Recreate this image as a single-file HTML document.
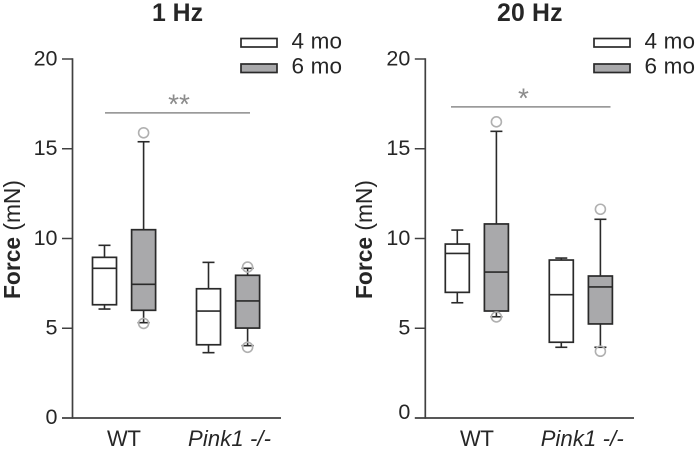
<!DOCTYPE html>
<html>
<head>
<meta charset="utf-8">
<style>
html,body{margin:0;padding:0;background:#fff;width:696px;height:458px;overflow:hidden}
svg{display:block}
text{font-family:"Liberation Sans",sans-serif;fill:#262626}
</style>
</head>
<body>
<svg id="figure" width="696" height="458" viewBox="0 0 696 458" xmlns="http://www.w3.org/2000/svg"></svg>
<script>
const categories = ['WT', 'Pink1 -/-'];
const seriesNames = ['4 mo', '6 mo'];
const tickLabels = [0, 5, 10, 15, 20];

// Order in each array: WT 4 mo, WT 6 mo, Pink1 4 mo, Pink1 6 mo
const whiskerHigh1Hz = [9.62, 15.39, 8.67, 8.34];
const q3Values1Hz = [8.95, 10.49, 7.2, 7.95];
const medianValues1Hz = [8.34, 7.45, 5.96, 6.52];
const q1Values1Hz = [6.31, 6.0, 4.08, 5.01];
const whiskerLow1Hz = [6.07, 5.31, 3.64, 4.03];
const outliers1Hz = [[], [15.89, 5.27], [], [8.41, 3.94]];

const whiskerHigh20Hz = [10.47, 15.97, 8.91, 11.07];
const q3Values20Hz = [9.69, 10.81, 8.8, 7.91];
const medianValues20Hz = [9.17, 8.13, 6.87, 7.3];
const q1Values20Hz = [7.0, 5.96, 4.22, 5.24];
const whiskerLow20Hz = [6.42, 5.64, 3.94, 3.94];
const outliers20Hz = [[], [16.5, 5.63], [], [11.63, 3.72]];

const significance1Hz = 17.0;
const significance20Hz = 17.33;

const svg = document.getElementById('figure');
const NS = 'http://www.w3.org/2000/svg';
function y(v) { return 418 - v * 17.95; }
function make(tag, attrs, parent) {
  const el = document.createElementNS(NS, tag);
  for (const k in attrs) el.setAttribute(k, attrs[k]);
  parent.appendChild(el);
  return el;
}
function line(x1, y1, x2, y2, color, w, parent) {
  return make('line', {x1: x1, y1: y1, x2: x2, y2: y2, stroke: color, 'stroke-width': w}, parent);
}
function label(str, x, yy, size, len, anchor, parent) {
  const t = make('text', {x: x, y: yy, 'font-size': size, 'text-anchor': anchor || 'start'}, parent);
  if (len) { t.setAttribute('textLength', len); t.setAttribute('lengthAdjust', 'spacing'); }
  t.textContent = str;
  return t;
}

function drawPanel(p) {
  const g = make('g', {}, svg);
  
  

  const title = make('text', {x: p.titleX, y: 21, 'font-size': 24.8, 'font-weight': 'bold', textLength: p.titleLen, lengthAdjust: 'spacing'}, g);
  title.textContent = p.title;
  
  

  const yTitle = make('text', {transform: 'translate(' + p.yTitleX + ',299) rotate(-90)', 'font-size': 22.8, textLength: 119, lengthAdjust: 'spacing'}, g);
  const bold = make('tspan', {'font-weight': 'bold'}, yTitle);
  bold.textContent = 'Force';
  const unit = make('tspan', {}, yTitle);
  unit.textContent = ' (mN)';
  
  

  const yAxis = line(p.axisX, y(20) - 0.7, p.axisX, y(0) + 0.7, '#404040', 1.7, g);
  
  
  const xAxis = line(p.axisX - 10.5, y(0), p.axisEnd, y(0), '#404040', 1.7, g);
  
  

  tickLabels.forEach(function (v) {
    if (v !== 0) {
      const tick = line(p.axisX - 10.5, y(v), p.axisX, y(v), '#404040', 1.5, g);
      
      
    }
    const dy = v === 0 ? p.zeroBaseline : y(v) + 6.3;
    const t = label(String(v), p.axisX - 15, dy, 21.5, null, 'end', g);
    
    
  });

  categories.forEach(function (c, i) {
    const t = label(c, p.catX[i], 446, 22, p.catLen[i], 'start', g);
    if (i === 1) t.setAttribute('font-style', 'italic');
    
    
  });

  for (let i = 0; i < 4; i++) {
    const cx = p.origin + Math.floor(i / 2) * 104 + (i % 2) * 39.1;
    const box = make('g', {}, g);
    
    
    line(cx, y(p.high[i]), cx, y(p.q3[i]), '#2a2a2a', 1.6, box);
    line(cx, y(p.q1[i]), cx, y(p.low[i]), '#2a2a2a', 1.6, box);
    line(cx - 6, y(p.high[i]), cx + 6, y(p.high[i]), '#2a2a2a', 1.6, box);
    line(cx - 6, y(p.low[i]), cx + 6, y(p.low[i]), '#2a2a2a', 1.6, box);
    make('rect', {x: cx - 12, y: y(p.q3[i]), width: 24, height: y(p.q1[i]) - y(p.q3[i]), fill: i % 2 ? '#a9a9ab' : '#fff', stroke: '#2a2a2a', 'stroke-width': 1.7}, box);
    line(cx - 12, y(p.median[i]), cx + 12, y(p.median[i]), '#2a2a2a', 1.6, box);
    p.outliers[i].forEach(function (v) {
      const o = make('circle', {cx: cx, cy: y(v), r: 5, fill: 'none', stroke: '#b0b0b0', 'stroke-width': 1.6}, box);
      
      
    });
  }

  const sig = line(p.sigX[0], y(p.sig), p.sigX[1], y(p.sig), '#8c8c8c', 1.5, g);
  
  
  const star = make('text', {x: p.starX, y: y(p.sig) + 0.8, 'font-size': 28, 'text-anchor': 'middle'}, g);
  star.textContent = p.stars;
  star.style.fill = '#8c8c8c';
  
  

  seriesNames.forEach(function (s, i) {
    const top = i === 0 ? 38.5 : 64;
    const entry = make('g', {}, g);
    
    
    make('rect', {x: p.legendX, y: top, width: 36, height: 8.5, fill: i ? '#a9a9ab' : '#fff', stroke: '#2a2a2a', 'stroke-width': 1.7}, entry);
    label(s, p.legendX + 50.5, i === 0 ? 48.3 : 73.3, 22.5, 50.5, 'start', entry);
  });
}

drawPanel({
  name: 'hz1', title: '1 Hz', titleX: 152, titleLen: 51, yTitleX: 20, axisX: 72.5, axisEnd: 281,
  zeroBaseline: 424, catX: [107, 188], catLen: [34, 83], origin: 104.5,
  high: whiskerHigh1Hz, q3: q3Values1Hz, median: medianValues1Hz, q1: q1Values1Hz, low: whiskerLow1Hz, outliers: outliers1Hz,
  sig: significance1Hz, sigX: [105, 250], starX: 179, stars: '**', legendX: 241
});
drawPanel({
  name: 'hz20', title: '20 Hz', titleX: 497, titleLen: 65.5, yTitleX: 372, axisX: 425.3, axisEnd: 634,
  zeroBaseline: 419, catX: [460, 540.7], catLen: [34, 83], origin: 457.3,
  high: whiskerHigh20Hz, q3: q3Values20Hz, median: medianValues20Hz, q1: q1Values20Hz, low: whiskerLow20Hz, outliers: outliers20Hz,
  sig: significance20Hz, sigX: [451, 610.5], starX: 523.5, stars: '*', legendX: 594
});
</script>
</body>
</html>
